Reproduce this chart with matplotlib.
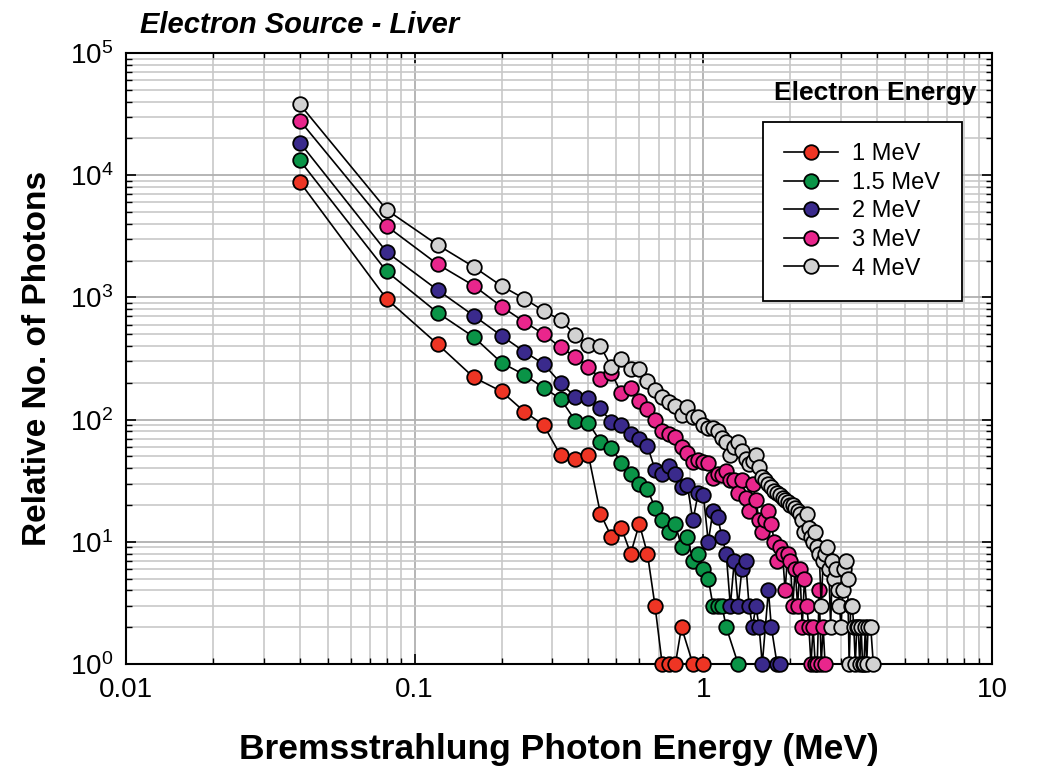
import matplotlib
matplotlib.use("Agg")
import matplotlib.pyplot as plt
from matplotlib.ticker import LogLocator, FixedLocator, FixedFormatter, NullFormatter

plt.rcParams['font.family'] = ['Liberation Sans', 'DejaVu Sans']

# bin centres of the photon spectrum (MeV)
bin_energy = [
    0.04, 0.08, 0.12, 0.16, 0.20, 0.24, 0.28, 0.32, 0.36, 0.40,
    0.44, 0.48, 0.52, 0.56, 0.60, 0.64, 0.68, 0.72, 0.76, 0.80,
    0.84, 0.88, 0.92, 0.96, 1.00, 1.04, 1.08, 1.12, 1.16, 1.20,
    1.24, 1.28, 1.32, 1.36, 1.40, 1.44, 1.48, 1.52, 1.56, 1.60,
    1.64, 1.68, 1.72, 1.76, 1.80, 1.84, 1.88, 1.92, 1.96, 2.00,
    2.04, 2.08, 2.12, 2.16, 2.20, 2.24, 2.28, 2.32, 2.36, 2.40,
    2.44, 2.48, 2.52, 2.56, 2.60, 2.64, 2.68, 2.72, 2.76, 2.80,
    2.84, 2.88, 2.92, 2.96, 3.00, 3.04, 3.08, 3.12, 3.16, 3.20,
    3.24, 3.28, 3.32, 3.36, 3.40, 3.44, 3.48, 3.52, 3.56, 3.60,
    3.64, 3.68, 3.72, 3.76, 3.80, 3.84, 3.88, 3.92, 3.96, 4.00,
]

# relative photon counts per bin (None = empty bin)
counts_1mev = [8800, 970, 415, 222, 170, 116, 90, 51, 48, 51,
               17, 11, 13, 8, 14, 8, 3, 1, 1, 1,
               2, None, 1, None, 1]
counts_15mev = [13200, 1630, 750, 475, 292, 232, 182, 148, 98, 94,
                66, 59, 44, 36, 30, 27, 19, 15, 12, 14,
                9, 11, 7, 8, 6, 5, 3, 3, 3, 2,
                None, None, 1, None, None, None, None]
counts_2mev = [18500, 2350, 1150, 710, 485, 359, 285, 199, 154, 150,
               124, 95, 90, 76, 69, 61, 39, 36, 42, 36,
               28, 29, 15, 25, 24, 10, 18, 16, 11, 8,
               3, 7, 3, 6, 7, 3, 2, 3, 2, 1,
               None, 4, 2, None, 1, 1, None, None, None, None]
counts_3mev = [28000, 3830, 1870, 1250, 840, 630, 500, 390, 327, 270,
               216, 240, 165, 182, 141, 122, 100, 80, 76, 72,
               60, 53, 45, 47, 45, 44, 33, 36, 35, 38,
               32, 32, 25, 32, 23, 18, 30, 22, 15, 12,
               15, 18, 14, 10, 7, 9, 8, 4, 8, 7,
               3, 6, 3, 6, 2, 5, 3, 2, 1, 2,
               1, 1, 4, 1, 2, 1, None, None, None, None,
               None, None, None, None, None]
counts_4mev = [38000, 5200, 2690, 1780, 1240, 975, 775, 653, 493, 407,
               400, 270, 314, 258, 258, 208, 175, 153, 139, 129,
               110, 126, 105, 105, 90, 86, 85, 80, 71, 65,
               51, 60, 66, 55, 48, 43, 46, 51, 41, 34,
               32, 30, 28, 26, 25, 24, 23, 22, 21, 20,
               20, 19, 18, 17, 15, 12, 17, 13, 11, 10,
               12, 9, 8, 3, 7, 8, 9, 6, 2, 7,
               5, 6, 4, 3, 2, 4, 6, 7, 5, 1,
               3, 3, 2, 1, 2, 2, 1, 2, 1, 1,
               2, 1, 2, None, 2, None, 1, None, None, None]

series_labels = ['1 MeV', '1.5 MeV', '2 MeV', '3 MeV', '4 MeV']
series_counts = [counts_1mev, counts_15mev, counts_2mev, counts_3mev, counts_4mev]
series_colors = ['#ee3524', '#0a9447', '#3a2a8c', '#e9268c', '#d2d2d2']

x_ticks = [0.01, 0.1, 1, 10]
x_ticklabels = ['0.01', '0.1', '1', '10']

fig = plt.figure(figsize=(10.5, 7.79), dpi=100)
ax = fig.add_axes([0.12, 0.1476, 0.8248, 0.7844])

for label, counts, color in zip(series_labels, series_counts, series_colors):
    pts = [(e, c) for e, c in zip(bin_energy, counts) if c is not None]
    xs = [p[0] for p in pts]
    ys = [p[1] for p in pts]
    ax.plot(xs, ys, color='black', lw=1.2, marker='o', ms=10.5,
            mfc=color, mec='black', mew=1.3, label=label, clip_on=False, zorder=3)

ax.set_xscale('log')
ax.set_yscale('log')
ax.set_xlim(0.01, 10)
ax.set_ylim(1, 1e5)

ax.xaxis.set_major_locator(FixedLocator(x_ticks))
ax.xaxis.set_major_formatter(FixedFormatter(x_ticklabels))
ax.xaxis.set_minor_locator(LogLocator(base=10, subs=range(2, 10), numticks=20))
ax.xaxis.set_minor_formatter(NullFormatter())
ax.yaxis.set_major_locator(LogLocator(base=10, numticks=10))
ax.yaxis.set_minor_locator(LogLocator(base=10, subs=range(2, 10), numticks=20))
ax.yaxis.set_minor_formatter(NullFormatter())

ax.grid(True, which='major', color='#b0b0b0', lw=1.3)
ax.grid(True, which='minor', color='#c8c8c8', lw=1.2)
ax.set_axisbelow(True)

ax.tick_params(which='both', direction='in', top=True, right=True, labelsize=20)
ax.tick_params(which='major', length=7, width=1.2, pad=9)
ax.tick_params(which='minor', length=4, width=1.0)
for sp in ax.spines.values():
    sp.set_linewidth(1.5)

ax.set_xlabel('Bremsstrahlung Photon Energy (MeV)', fontsize=25.5, fontweight='bold', labelpad=22)
ax.set_ylabel('Relative No. of Photons', fontsize=24, fontweight='bold', labelpad=12)
ax.text(0.016, 1.045, 'Electron Source - Liver', transform=ax.transAxes,
        fontsize=21, fontweight='bold', fontstyle='italic', va='center')

ax.text(0.865, 0.934, 'Electron Energy', transform=ax.transAxes,
        fontsize=19, fontweight='bold', ha='center', va='center')
leg = ax.legend(loc='upper left', bbox_to_anchor=(0.735, 0.887), fontsize=17,
                frameon=True, fancybox=False, edgecolor='black', framealpha=1,
                numpoints=1, handlelength=2.3, borderpad=0.9, labelspacing=0.28,
                handletextpad=0.6, borderaxespad=0)
leg.get_frame().set_linewidth(1.3)

fig.savefig('out.png', dpi=100)
